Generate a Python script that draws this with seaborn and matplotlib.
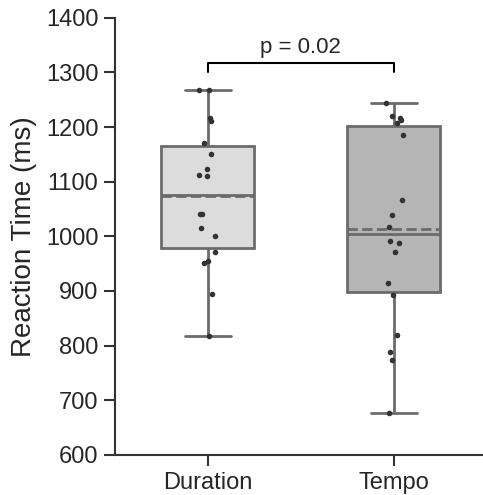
import pandas as pd
import seaborn as sns
import matplotlib.pyplot as plt
import numpy as np

conditions = ['Duration', 'Tempo']
duration_rt = [817, 895, 951, 955, 971, 1001, 1016, 1041, 1041, 1111,
               1113, 1124, 1151, 1171, 1212, 1217, 1267, 1267]
tempo_rt = [677, 773, 789, 820, 893, 915, 971, 988, 992, 1017,
            1039, 1067, 1186, 1207, 1213, 1216, 1221, 1245]
p_text = 'p = 0.02'

data = pd.DataFrame({
    'Condition': ['Duration'] * len(duration_rt) + ['Tempo'] * len(tempo_rt),
    'RT': duration_rt + tempo_rt,
})

sns.set_theme(style='ticks')
plt.rcParams['font.family'] = ['Liberation Sans', 'DejaVu Sans']

fig = plt.figure(figsize=(4.83, 4.95), dpi=100)
ax = fig.add_axes([0.238, 0.081, 0.77, 0.883])

edge = '#6b6b6b'
sns.boxplot(x='Condition', y='RT', data=data, order=conditions, hue='Condition',
            palette=['#dcdcdc', '#b5b5b5'], width=0.5, linewidth=2,
            linecolor=edge, showmeans=True, meanline=True, showfliers=False,
            meanprops=dict(color=edge, linestyle='--', linewidth=2),
            medianprops=dict(color=edge, linewidth=2), ax=ax, legend=False)

np.random.seed(3)
sns.stripplot(x='Condition', y='RT', data=data, order=conditions,
              color='#333333', size=4, jitter=0.05, ax=ax)

ax.set_ylim(600, 1400)
ax.set_yticks(range(600, 1401, 100))
ax.set_xlim(-0.5, 1.5)
ax.set_xlabel('')
ax.set_ylabel('Reaction Time (ms)', fontsize=20, labelpad=6)
ax.tick_params(labelsize=17, width=1.5, length=8, pad=4, color='#333333')
for s in ['left', 'bottom']:
    ax.spines[s].set_linewidth(1.5)
    ax.spines[s].set_color('#333333')
sns.despine(ax=ax)

# significance bracket
ax.plot([0, 0, 1, 1], [1300, 1318, 1318, 1300], color='black', linewidth=1.5)
ax.text(0.5, 1326, p_text, ha='center', va='bottom', fontsize=16)

fig.savefig('out.png', dpi=100)
